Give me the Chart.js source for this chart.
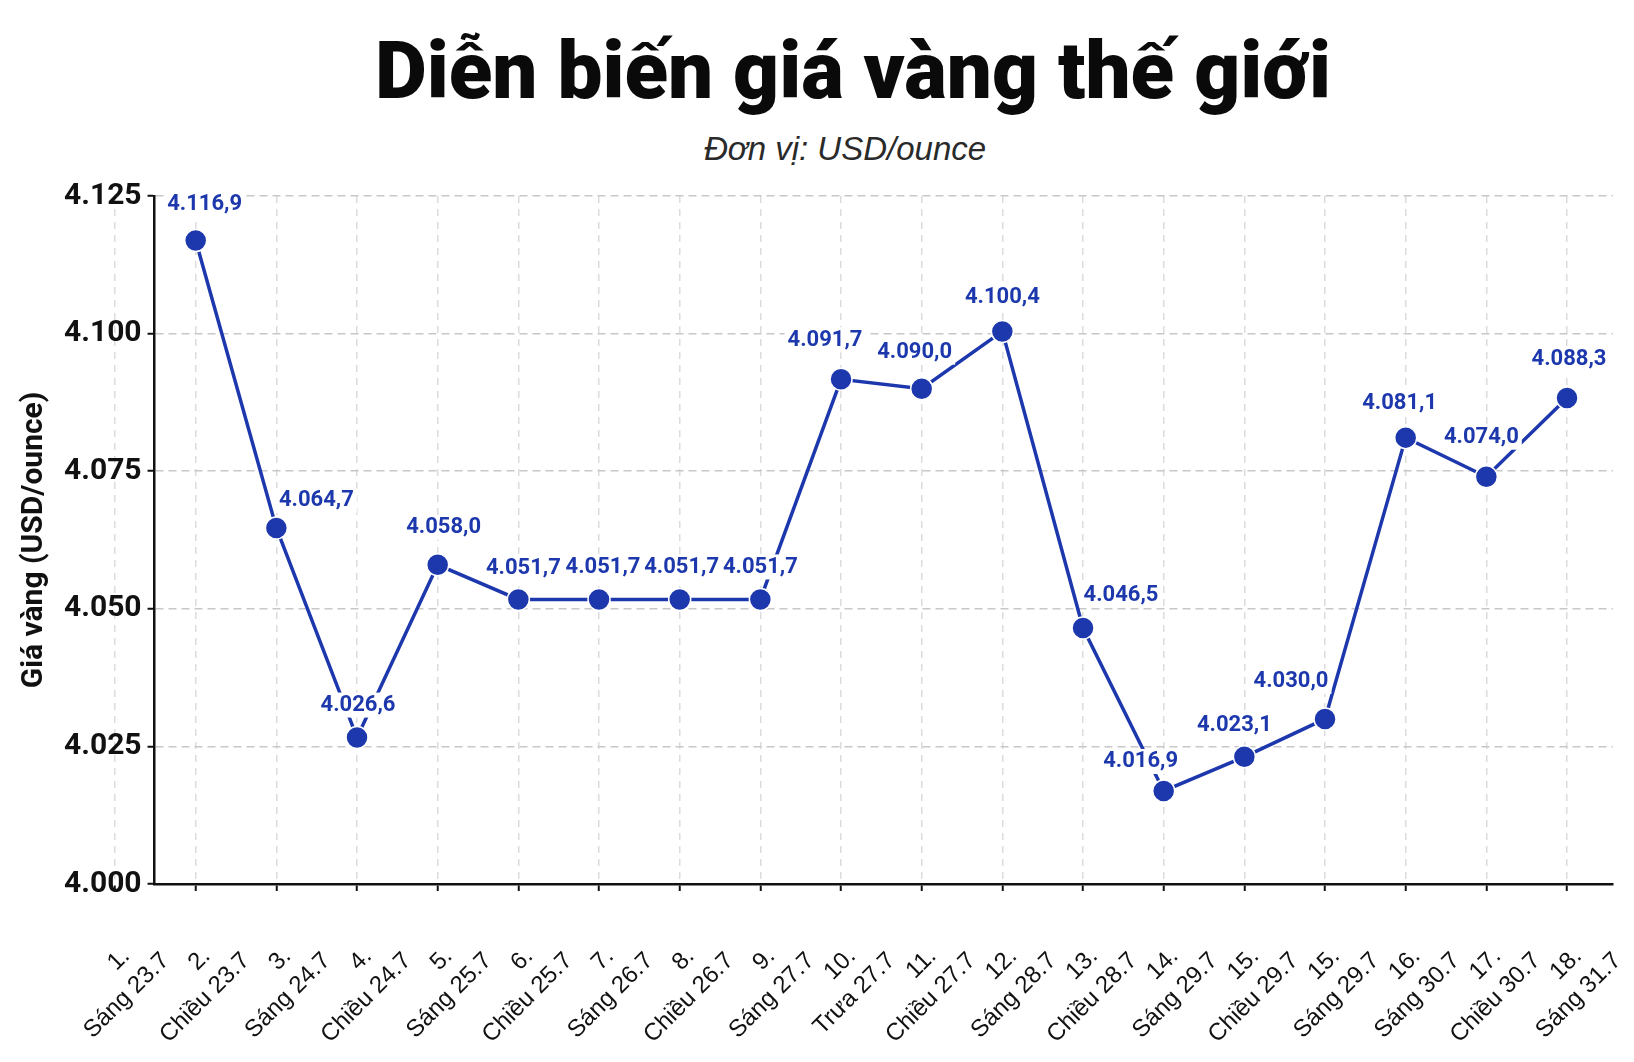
<!DOCTYPE html>
<html lang="vi">
<head>
<meta charset="utf-8">
<title>Diễn biến giá vàng thế giới</title>
<script src="https://cdn.jsdelivr.net/npm/chart.js@4.4.1/dist/chart.umd.min.js"></script>
<style>
    html, body { margin: 0; padding: 0; background: #fff; }
    body { width: 1634px; height: 1062px; position: relative; overflow: hidden; }
    #title {
        position: absolute; left: 853px; top: 31px; transform: translateX(-50%);
        margin: 0; font: 900 80px Roboto, sans-serif; line-height: 1;
        white-space: nowrap; color: #0a0a0a;
    }
    #subtitle {
        position: absolute; left: 845px; top: 132px; transform: translateX(-50%);
        font: italic 33px "Liberation Sans", Arial, sans-serif; line-height: 1;
        white-space: nowrap; color: #2a2a2a;
    }
    #chartBox { position: absolute; left: 0; top: 0; width: 1634px; height: 1062px; }
</style>
</head>
<body>
<h1 id="title">Diễn biến giá vàng thế giới</h1>
<div id="subtitle">Đơn vị: USD/ounce</div>
<div id="chartBox"><canvas id="goldChart" width="1634" height="1062"></canvas></div>

<script>
// số thứ tự + buổi/ngày (nhãn trục X, 19 nhãn như ảnh gốc)
const pointNumbers = ['1.', '2.', '3.', '4.', '5.', '6.', '7.', '8.', '9.', '10.',
    '11.', '12.', '13.', '14.', '15.', '15.', '16.', '17.', '18.'];
const timeLabels = ['Sáng 23.7', 'Chiều 23.7', 'Sáng 24.7', 'Chiều 24.7', 'Sáng 25.7',
    'Chiều 25.7', 'Sáng 26.7', 'Chiều 26.7', 'Sáng 27.7', 'Trưa 27.7', 'Chiều 27.7',
    'Sáng 28.7', 'Chiều 28.7', 'Sáng 29.7', 'Chiều 29.7', 'Sáng 29.7', 'Sáng 30.7',
    'Chiều 30.7', 'Sáng 31.7'];

// giá vàng (USD/ounce), 18 điểm
const goldPrices = [4116.9, 4064.7, 4026.6, 4058.0, 4051.7, 4051.7, 4051.7, 4051.7,
    4091.7, 4090.0, 4100.4, 4046.5, 4016.9, 4023.1, 4030.0, 4081.1, 4074.0, 4088.3];

const yTicks = [4000, 4025, 4050, 4075, 4100, 4125];

// vị trí nhãn giá so với điểm (px)
const labelShift = [[9, -37], [40, -28], [1, -33], [6, -38], [5, -32], [4, -33], [2, -33],
    [0, -33], [-16, -40], [-7, -37], [0, -35], [38, -34], [-23, -30], [-10, -32],
    [-34, -38], [-6, -35], [-5, -40], [2, -39]];

const BLUE = '#1d38ad';

function formatThousands(v) {
    return String(Math.round(v)).replace(/\B(?=(\d{3})+(?!\d))/g, '.');
}

function formatPrice(v) {
    const parts = v.toFixed(1).split('.');
    return formatThousands(Number(parts[0])) + ',' + parts[1];
}

const valueLabels = {
    id: 'valueLabels',
    afterDatasetsDraw(chart, args, opts) {
        const ctx = chart.ctx;
        const meta = chart.getDatasetMeta(0);
        ctx.save();
        ctx.font = 'bold 22px Roboto, sans-serif';
        ctx.textAlign = 'center';
        ctx.textBaseline = 'middle';
        meta.data.forEach((pt, i) => {
            const text = formatPrice(goldPrices[i]);
            const x = pt.x + opts.shift[i][0];
            const y = pt.y + opts.shift[i][1];
            const w = ctx.measureText(text).width;
            ctx.fillStyle = '#ffffff';
            ctx.fillRect(x - w / 2 - 3, y - 12, w + 6, 25);
            ctx.fillStyle = opts.color;
            ctx.fillText(text, x, y + 1);
        });
        ctx.restore();
    }
};

const ctx = document.getElementById('goldChart').getContext('2d');

const goldChart = new Chart(ctx, {
    type: 'line',
    data: {
        datasets: [{
            data: goldPrices.map((v, i) => ({ x: i + 1, y: v })),
            borderColor: BLUE,
            borderWidth: 3.5,
            tension: 0,
            fill: false,
            pointRadius: 11,
            pointBackgroundColor: BLUE,
            pointBorderColor: '#ffffff',
            pointBorderWidth: 1.5
        }]
    },
    options: {
        responsive: false,
        animation: false,
        devicePixelRatio: 1,
        layout: { padding: { top: 196, right: 21, left: 0, bottom: 6 } },
        plugins: {
            legend: { display: false },
            tooltip: { enabled: false },
            valueLabels: { shift: labelShift, color: BLUE }
        },
        scales: {
            x: {
                type: 'linear',
                bounds: 'data',
                min: 0.49,
                max: 18.57,
                afterBuildTicks: scale => {
                    scale.ticks = pointNumbers.map((_, i) => ({ value: i }));
                },
                afterFit: scale => {
                    // nhãn số 1 nằm ngoài vùng vẽ, không để nó đẩy trục Y
                    scale.paddingLeft = 0;
                    scale.paddingRight = 0;
                    scale.height = 172;
                },
                ticks: {
                    autoSkip: false,
                    minRotation: 45,
                    maxRotation: 45,
                    callback: (value, index) => [pointNumbers[index] + '   \u2009', timeLabels[index]],
                    font: { family: '"Liberation Sans", Arial, sans-serif', size: 24, lineHeight: 1.29 },
                    color: '#111111',
                    padding: 33,
                    labelOffset: 28.5
                },
                grid: { color: '#dcdcdc', lineWidth: 1.5, tickColor: '#111111', tickLength: 7, tickWidth: 2 },
                border: { color: '#111111', width: 2.5, dash: [7, 6] }
            },
            y: {
                min: 4000,
                max: 4125,
                afterBuildTicks: scale => {
                    scale.ticks = yTicks.map(v => ({ value: v }));
                },
                ticks: {
                    callback: v => formatThousands(v),
                    font: { family: 'Roboto, sans-serif', weight: 'bold', size: 30 },
                    color: '#111111',
                    padding: 6
                },
                grid: {
                    color: c => (c.tick && c.tick.value === 4000 ? 'rgba(0,0,0,0)' : '#c8c8c8'),
                    lineWidth: 1.5, tickColor: '#111111', tickLength: 7, tickWidth: 2
                },
                border: { color: '#111111', width: 2.5, dash: [8, 5] },
                title: {
                    display: true,
                    text: 'Giá vàng (USD/ounce)',
                    font: { family: 'Roboto, sans-serif', weight: 'bold', size: 30 },
                    color: '#111111',
                    padding: { top: 16, bottom: 6 }
                }
            }
        }
    },
    plugins: [valueLabels]
});
</script>
</body>
</html>
